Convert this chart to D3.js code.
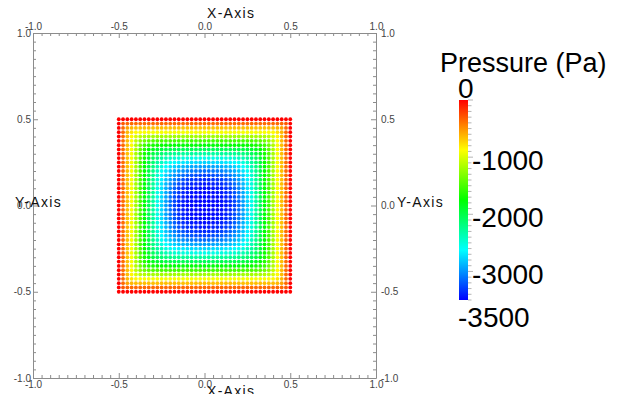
<!DOCTYPE html>
<html>
<head>
<meta charset="utf-8">
<script src="https://cdn.jsdelivr.net/npm/d3@7"></script>
<style>
  html, body { margin: 0; padding: 0; background: #fff; }
  svg { display: block; }
</style>
</head>
<body>
<svg id="chart" width="630" height="394"></svg>
<script>
// ---- data -------------------------------------------------------------
const axisTicks = [-1, -0.5, 0, 0.5, 1];
const axisTickLabels = ["-1.0", "-0.5", "0.0", "0.5", "1.0"];
const minorTickStep = 0.05;
const xTitle = "X-Axis";
const yTitle = "Y-Axis";

// sample points: a 41 x 41 grid over [-0.5, 0.5] in both directions
const gridStep = 0.025;
const gridCoords = d3.range(41).map(i => -0.5 + i * gridStep);

// pressure (Pa) in one quadrant, from the wall (index 0) to the centre (index 20).
// Row a lists columns a..20; the field is symmetric about the diagonal and both axes.
const pressureTri = [
  [0,0,0,0,0,0,0,0,0,0,0,0,0,0,0,0,0,0,0,0,0],
  [-307,-360,-364,-365,-365,-365,-365,-365,-365,-365,-365,-365,-365,-365,-365,-365,-365,-365,-365,-365],
  [-563,-630,-647,-652,-654,-655,-656,-656,-656,-656,-656,-656,-656,-656,-656,-656,-656,-656,-656],
  [-786,-855,-882,-893,-898,-900,-902,-903,-904,-904,-904,-904,-904,-904,-904,-904,-904,-904],
  [-1011,-1100,-1145,-1167,-1179,-1185,-1189,-1191,-1193,-1194,-1195,-1196,-1196,-1196,-1196,-1196,-1196],
  [-1265,-1375,-1438,-1474,-1495,-1507,-1515,-1520,-1524,-1526,-1528,-1529,-1530,-1531,-1531,-1531],
  [-1544,-1629,-1682,-1716,-1737,-1750,-1759,-1765,-1770,-1773,-1775,-1776,-1777,-1778,-1779],
  [-1754,-1845,-1909,-1951,-1979,-1998,-2012,-2021,-2027,-2032,-2036,-2038,-2040,-2042],
  [-1976,-2072,-2141,-2189,-2223,-2246,-2264,-2276,-2285,-2292,-2297,-2301,-2304],
  [-2201,-2300,-2369,-2420,-2458,-2485,-2505,-2520,-2532,-2540,-2547,-2552],
  [-2422,-2518,-2587,-2637,-2674,-2703,-2724,-2741,-2753,-2763,-2771],
  [-2631,-2718,-2785,-2832,-2868,-2897,-2919,-2936,-2949,-2960],
  [-2820,-2899,-2962,-3009,-3047,-3077,-3101,-3120,-3135],
  [-2993,-3069,-3132,-3175,-3211,-3239,-3262,-3281],
  [-3158,-3224,-3281,-3309,-3333,-3353,-3369],
  [-3296,-3339,-3373,-3394,-3412,-3427],
  [-3383,-3414,-3436,-3451,-3464],
  [-3442,-3464,-3475,-3485],
  [-3479,-3491,-3500],
  [-3500,-3500],
  [-3500]
];

const legendTitle = "Pressure (Pa)";
const legendRange = [-3500, 0];
const legendTicks = [0, -1000, -2000, -3000, -3500];
const legendTickLabels = ["0", "-1000", "-2000", "-3000", "-3500"];
const legendMinorStep = 100;

// ---- scales -----------------------------------------------------------
const svg = d3.select("#chart");
const x = d3.scaleLinear().domain([-1, 1]).range([33, 376]);
const y = d3.scaleLinear().domain([-1, 1]).range([378, 33]);

// blue -> red rainbow (HSV hue 240 down to 0)
const hue = d3.scaleLinear().domain(legendRange).range([240, 0]).clamp(true);
const color = v => d3.hsl(hue(v), 1, 0.5).toString();

function pressureAt(c, r) {
  const n = gridCoords.length - 1;
  const i = Math.min(c, n - c), j = Math.min(r, n - r);
  const a = Math.min(i, j), b = Math.max(i, j);
  return pressureTri[a][b - a];
}

const points = [];
gridCoords.forEach((gx, c) => {
  gridCoords.forEach((gy, r) => {
    points.push({ x: gx, y: gy, p: pressureAt(c, r) });
  });
});

// ---- point cloud ------------------------------------------------------
svg.append("g").selectAll("circle")
  .data(points)
  .join("circle")
  .attr("cx", d => x(d.x))
  .attr("cy", d => y(d.y))
  .attr("r", 1.9)
  .attr("fill", d => color(d.p));

// ---- axes on all four sides --------------------------------------------
const minorTicks = d3.range(-1, 1 + 1e-9, minorTickStep)
  .filter(v => !axisTicks.some(t => Math.abs(t - v) < 1e-6));
const fmt = d => axisTickLabels[axisTicks.indexOf(d)];
const axisColor = "#8c8c8c";

const axes = [
  { make: d3.axisTop, scale: x, t: `translate(0,${y(1)})`, pad: 3 },
  { make: d3.axisBottom, scale: x, t: `translate(0,${y(-1)})`, pad: 3 },
  { make: d3.axisLeft, scale: y, t: `translate(${x(-1)},0)`, pad: 2 },
  { make: d3.axisRight, scale: y, t: `translate(${x(1)},0)`, pad: 5 }
];

axes.forEach(a => {
  const minor = a.make(a.scale).tickValues(minorTicks).tickFormat("")
    .tickSizeInner(-3).tickSizeOuter(0);
  const gm = svg.append("g").attr("transform", a.t).call(minor);
  gm.select(".domain").remove();
  gm.selectAll("line").attr("stroke", axisColor);

  const major = a.make(a.scale).tickValues(axisTicks).tickFormat(fmt)
    .tickSizeInner(-5).tickSizeOuter(0).tickPadding(a.pad);
  const g = svg.append("g").attr("transform", a.t).call(major);
  g.select(".domain").attr("stroke", axisColor);
  g.selectAll("line").attr("stroke", axisColor);
  g.selectAll("text")
    .attr("fill", "#444")
    .style("font-family", "'Liberation Sans', Arial, sans-serif")
    .style("font-size", "10px");
});

// axis titles
const titleStyle = sel => sel
  .attr("fill", "#111")
  .style("font-family", "'Liberation Sans', Arial, sans-serif")
  .style("font-size", "14px")
  .style("letter-spacing", "1.3px");

svg.append("text").attr("x", 207).attr("y", 18).text(xTitle).call(titleStyle);
svg.append("text").attr("x", 207).attr("y", 396).text(xTitle).call(titleStyle);
svg.append("text").attr("x", 15).attr("y", 207).text(yTitle).call(titleStyle);
svg.append("text").attr("x", 397).attr("y", 207).text(yTitle).call(titleStyle);

// ---- colour legend -----------------------------------------------------
const ly = d3.scaleLinear().domain([0, -3500]).range([100, 300]);
const barX = 459, barW = 9;

const grad = svg.append("defs").append("linearGradient")
  .attr("id", "pressureGrad")
  .attr("x1", 0).attr("y1", 0).attr("x2", 0).attr("y2", 1);
d3.range(0, 49).forEach(i => {
  const v = legendRange[1] + (legendRange[0] - legendRange[1]) * i / 48;
  grad.append("stop").attr("offset", `${(i / 48) * 100}%`).attr("stop-color", color(v));
});

svg.append("rect")
  .attr("x", barX).attr("y", ly(0))
  .attr("width", barW).attr("height", ly(-3500) - ly(0))
  .attr("fill", "url(#pressureGrad)");

const legendMinor = d3.range(0, legendRange[0] - 1, -legendMinorStep);
svg.append("g").selectAll("line")
  .data(legendMinor)
  .join("line")
  .attr("x1", barX + barW).attr("x2", d => barX + barW + (d % 1000 === 0 ? 5 : 3.5))
  .attr("y1", d => ly(d)).attr("y2", d => ly(d))
  .attr("stroke", "#b5b5b5").attr("stroke-width", 1);

const legendFont = sel => sel
  .attr("fill", "#000")
  .style("font-family", "'Liberation Sans', Arial, sans-serif");

svg.append("text").attr("x", 440).attr("y", 72).text(legendTitle)
  .call(legendFont).style("font-size", "27px");

legendTicks.forEach((v, i) => {
  const t = svg.append("text").text(legendTickLabels[i]).call(legendFont)
    .style("font-size", "28px");
  if (i === 0) {
    t.attr("x", barX - 1).attr("y", ly(v) - 2);
  } else if (i === legendTicks.length - 1) {
    t.attr("x", barX - 1).attr("y", ly(v) + 27);
  } else {
    t.attr("x", barX + barW + 4).attr("y", ly(v) + 13);
  }
});
</script>
</body>
</html>
